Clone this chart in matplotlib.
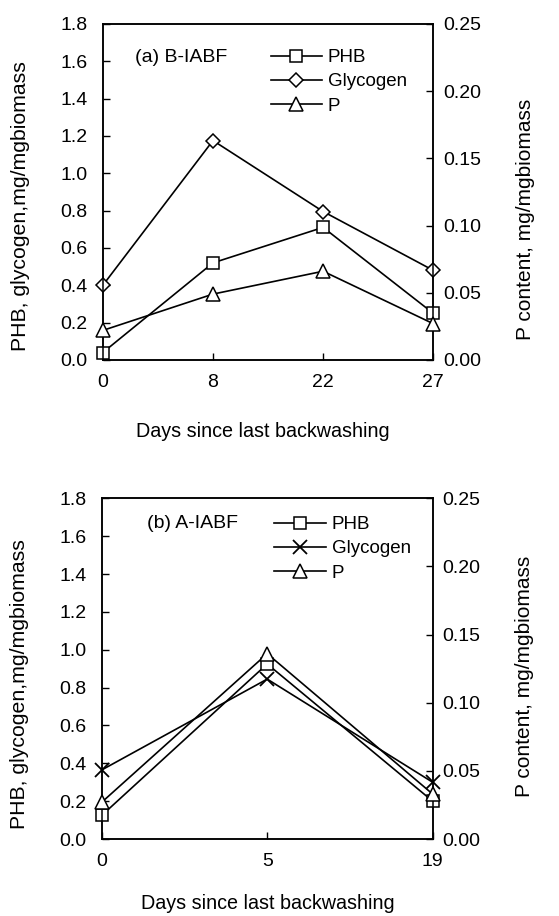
import matplotlib
matplotlib.use("Agg")
import matplotlib.pyplot as plt
from matplotlib.ticker import FormatStrFormatter

plt.rcParams['font.family'] = ['Liberation Sans', 'DejaVu Sans']
plt.rcParams['font.size'] = 14

# (a) B-IABF
jours_a = ["0", "8", "22", "27"]
phb_a = [0.04, 0.52, 0.71, 0.25]
glycogene_a = [0.40, 1.175, 0.795, 0.48]
p_a = [0.022, 0.049, 0.066, 0.027]

# (b) A-IABF
jours_b = ["0", "5", "19"]
phb_b = [0.125, 0.925, 0.20]
glycogene_b = [0.365, 0.845, 0.30]
p_b = [0.027, 0.136, 0.033]

fig = plt.figure(figsize=(5.59, 9.16), dpi=100)

def panneau(rect, jours, phb, glyco, p, titre, marq_glyco, leg_xy, lab_coords):
    ax = fig.add_axes(rect)
    ax2 = ax.twinx()
    x = list(range(len(jours)))
    style = dict(color="black", lw=1.2, markersize=8, markerfacecolor="white",
                 markeredgecolor="black", markeredgewidth=1.1, clip_on=False, zorder=5)
    l1, = ax.plot(x, phb, marker="s", label="PHB", **style)
    if marq_glyco == "x":
        l2, = ax.plot(x, glyco, marker="x", label="Glycogen",
                      color="black", lw=1.2, markersize=10, markeredgewidth=1.3,
                      clip_on=False, zorder=5)
    else:
        l2, = ax.plot(x, glyco, marker="D", label="Glycogen", **dict(style, markersize=7.5))
    l3, = ax2.plot(x, p, marker="^", label="P", **dict(style, markersize=9.5))

    ax.set_xlim(0, len(jours) - 1)
    ax.set_xticks(x)
    ax.set_xticklabels(jours)
    ax.set_ylim(0, 1.8)
    ax.set_yticks([0.2 * i for i in range(10)])
    ax.yaxis.set_major_formatter(FormatStrFormatter("%.1f"))
    ax2.set_ylim(0, 0.25)
    ax2.set_yticks([0.05 * i for i in range(6)])
    ax2.yaxis.set_major_formatter(FormatStrFormatter("%.2f"))

    ax.tick_params(direction="in", length=5, width=1, pad=11, right=False)
    ax.tick_params(axis="x", pad=10)
    ax2.tick_params(direction="in", length=5, width=1, pad=7)
    for a in (ax, ax2):
        for s in a.spines.values():
            s.set_linewidth(1.1)

    ax.set_ylabel("PHB, glycogen,mg/mgbiomass", va="center", fontsize=15.3)
    ax.yaxis.set_label_coords(-0.248, lab_coords[0])
    ax2.set_ylabel("P content, mg/mgbiomass", va="center", rotation=90, fontsize=15)
    ax2.yaxis.set_label_coords(1.278, lab_coords[1])
    ax.set_xlabel("Days since last backwashing", va="center", fontsize=14.2)
    ax.xaxis.set_label_coords(lab_coords[2], lab_coords[3])

    ax.text(titre[1], titre[2], titre[0], transform=ax.transAxes, va="center")
    ax2.legend(handles=[l1, l2, l3], loc="upper left", bbox_to_anchor=leg_xy,
               frameon=False, borderpad=0, borderaxespad=0, handlelength=2.75,
               handletextpad=0.3, labelspacing=0.38, fontsize=13.5)
    return ax

panneau([0.184, 0.607, 0.591, 0.367], jours_a, phb_a, glycogene_a, p_a,
        ("(a) B-IABF", 0.097, 0.899), "D", (0.508, 0.925),
        (0.458, 0.417, 0.485, -0.214))
panneau([0.182, 0.084, 0.592, 0.372], jours_b, phb_b, glycogene_b, p_b,
        ("(b) A-IABF", 0.136, 0.927), "x", (0.522, 0.948),
        (0.455, 0.478, 0.503, -0.188))

fig.savefig("out.png", dpi=100)
